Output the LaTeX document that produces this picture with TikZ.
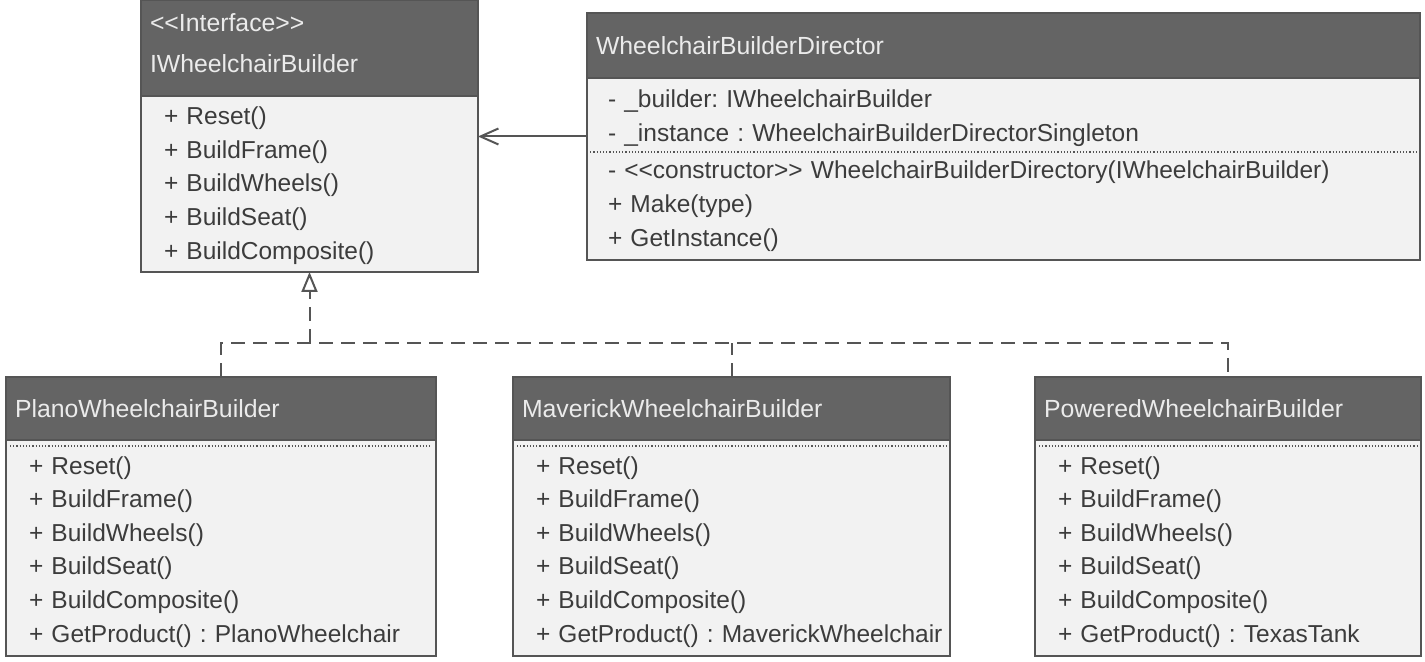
\documentclass[tikz,border=0pt]{standalone}
\usepackage{fontspec}
\setmainfont{Liberation Sans}
\usetikzlibrary{arrows.meta,fit}
\definecolor{headgray}{RGB}{100,100,100}
\definecolor{bodygray}{RGB}{242,242,242}
\definecolor{linegray}{RGB}{85,85,85}
\definecolor{textgray}{RGB}{60,60,60}
\newcommand{\umlstereo}[1]{<\kern0pt<#1>\kern0pt>}
\tikzset{
    head/.style={rectangle, draw=linegray, line width=1pt, fill=headgray, text=white!92!black, anchor=north west, align=left, inner xsep=4.5pt, inner ysep=0, outer sep=0, font=\fontsize{12.4}{17}\selectfont\frenchspacing},
    body/.style={rectangle, draw=linegray, line width=1pt, fill=bodygray, text=textgray, anchor=north west, align=left, inner xsep=0pt, inner ysep=0, outer sep=0, text height=10.5pt, font=\fontsize{12.25}{16.8}\selectfont\frenchspacing, execute at begin node={\leftskip=11.5pt}},
    whole/.style={inner sep=0, outer sep=0},
    divider/.style={linegray, densely dotted, line width=0.6pt},
    assoc/.style={linegray, line width=1pt, -{Straight Barb[length=9pt,width=8pt]}},
    realize/.style={linegray, line width=1pt, dash pattern=on 7pt off 4pt}
}

\begin{document}
\begin{tikzpicture}[x=0.5pt, y=-0.5pt]
    \useasboundingbox (0,0) rectangle (1425,662);

    % interface
    \node[head, text width=159.5pt, minimum height=48pt, text depth=25.5pt] (ifaceHead) at (141,0) {\umlstereo{Interface}\\[3.5pt]IWheelchairBuilder};
    \node[body, text width=168.5pt, minimum height=88pt] (ifaceBody) at (ifaceHead.south west) {+ Reset()\\+ BuildFrame()\\+ BuildWheels()\\+ BuildSeat()\\+ BuildComposite()};
    \node[whole, fit=(ifaceHead)(ifaceBody)] (iface) {};

    % director
    \node[head, text width=407.5pt, minimum height=32.5pt] (dirHead) at (587,13) {WheelchairBuilderDirector};
    \node[body, text width=416.5pt, minimum height=91pt, execute at begin node={\leftskip=10.5pt}] (dirBody) at (dirHead.south west) {- \_builder: IWheelchairBuilder\\- \_instance : WheelchairBuilderDirectorSingleton\\[2pt]- \umlstereo{constructor} WheelchairBuilderDirectory(IWheelchairBuilder)\\+ Make(type)\\+ GetInstance()};
    \node[whole, fit=(dirHead)(dirBody)] (director) {};
    \draw[divider] ([yshift=8.5pt]dirBody.west) -- ([yshift=8.5pt]dirBody.east);

    % concrete builders
    \node[head, text width=206pt, minimum height=31.5pt] (planoHead) at (6,377) {PlanoWheelchairBuilder};
    \node[body, text width=215pt, minimum height=108pt, text height=12.7pt] (planoBody) at (planoHead.south west) {+ Reset()\\+ BuildFrame()\\+ BuildWheels()\\+ BuildSeat()\\+ BuildComposite()\\+ GetProduct() : PlanoWheelchair};

    \node[head, text width=209.5pt, minimum height=31.5pt] (maverickHead) at (513,377) {MaverickWheelchairBuilder};
    \node[body, text width=218.5pt, minimum height=108pt, text height=12.7pt] (maverickBody) at (maverickHead.south west) {+ Reset()\\+ BuildFrame()\\+ BuildWheels()\\+ BuildSeat()\\+ BuildComposite()\\+ GetProduct() : MaverickWheelchair};

    \node[head, text width=184pt, minimum height=31.5pt] (poweredHead) at (1035,377) {PoweredWheelchairBuilder};
    \node[body, text width=193pt, minimum height=108pt, text height=12.7pt] (poweredBody) at (poweredHead.south west) {+ Reset()\\+ BuildFrame()\\+ BuildWheels()\\+ BuildSeat()\\+ BuildComposite()\\+ GetProduct() : TexasTank};

    \draw[divider] ([shift={(2pt,-3pt)}]planoBody.north west) -- ([shift={(-2pt,-3pt)}]planoBody.north east);
    \draw[divider] ([shift={(2pt,-3pt)}]maverickBody.north west) -- ([shift={(-2pt,-3pt)}]maverickBody.north east);
    \draw[divider] ([shift={(2pt,-3pt)}]poweredBody.north west) -- ([shift={(-2pt,-3pt)}]poweredBody.north east);

    % connectors
    \draw[assoc] (director.west) -- (director.west -| iface.east);
    \coordinate (bus) at ([yshift=-35.5pt]iface.south);
    \draw[realize] (planoHead.north) |- (bus) -| (poweredHead.north);
    \draw[realize] (maverickHead.north) -- (maverickHead.north |- bus);
    \draw[realize, -{Triangle[open,length=10pt,width=8pt]}] (bus) -- (iface.south);
\end{tikzpicture}
\end{document}
